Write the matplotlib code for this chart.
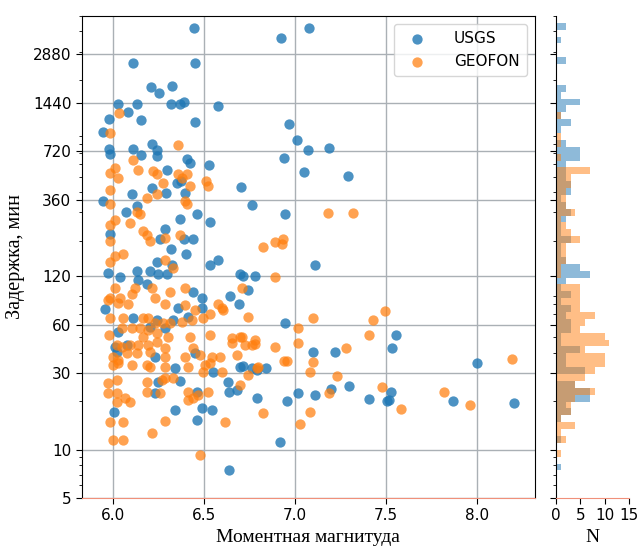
import numpy as np
import matplotlib
matplotlib.use("Agg")
import matplotlib.pyplot as plt
from matplotlib.ticker import NullFormatter

# USGS: magnitude, delay (min)
usgs_mag = [6.445, 7.077, 6.923, 6.110, 6.451, 6.209, 6.253, 6.324, 6.027, 6.132,
            6.082, 6.319, 6.368, 6.390, 6.577, 5.978, 6.154, 6.451, 6.967, 5.945,
            5.978, 5.984, 6.110, 6.154, 6.214, 6.242, 6.242, 6.407, 6.423, 6.527,
            7.011, 7.071, 7.187, 6.940, 7.049, 7.291, 6.297, 6.352, 6.374, 6.703,
            6.214, 6.104, 6.291, 6.396, 5.945, 6.132, 6.071, 6.462, 6.533, 6.368,
            6.764, 6.945, 5.984, 6.286, 6.258, 6.390, 6.440, 6.319, 6.401, 6.242,
            6.533, 6.577, 7.110, 5.973, 6.038, 6.132, 6.203, 6.247, 6.297, 6.324,
            6.137, 6.187, 6.698, 6.714, 6.780, 6.440, 6.489, 6.643, 6.742, 6.692,
            5.956, 6.110, 6.242, 6.330, 6.412, 6.489, 6.357, 6.286, 6.027, 6.011,
            6.022, 6.077, 6.203, 6.231, 6.451, 6.341, 6.247, 6.231, 6.368, 6.462,
            6.489, 6.544, 6.341, 6.462, 6.005, 6.549, 6.632, 6.637, 6.681, 6.698,
            6.714, 6.764, 6.791, 6.841, 6.637, 6.918, 6.945, 7.099, 7.220, 7.110,
            6.956, 6.791, 7.016, 7.198, 7.297, 7.407, 7.505, 7.516, 7.527, 7.533,
            7.555, 8.000, 7.868, 8.203]
usgs_delay = [4190, 4190, 3630, 2540, 2540, 1800, 1650, 1830, 1410, 1410,
              1260, 1410, 1410, 1460, 1375, 1140, 1125, 1095, 1060, 950,
              745, 690, 745, 683, 800, 733, 673, 645, 610, 592,
              846, 733, 754, 654, 535, 506, 551, 457, 471, 432,
              426, 391, 397, 397, 354, 329, 302, 294, 262, 273,
              334, 294, 221, 237, 203, 203, 203, 178, 164, 148,
              140, 152, 140, 125, 119, 130, 130, 123, 123, 140,
              113, 108, 123, 121, 121, 95, 88, 90, 98, 80,
              74.5, 66, 63.6, 63.6, 66.4, 75.6, 75.6, 56.8, 53.6, 43.3,
              40.3, 44.5, 57.6, 37.5, 39.7, 32.0, 26.2, 22.4, 26.6, 22.8,
              18.1, 17.6, 17.6, 15.2, 17.1, 30.3, 26.2, 22.8, 23.4, 32.5,
              33.0, 32.0, 31.1, 32.0, 7.46, 11.1, 61, 40.3, 40.3, 21.8,
              20, 20.9, 22.4, 23.7, 24.8, 20.6, 20, 20.3, 22.8, 42.7,
              51.4, 34.4, 20, 19.4]

# GEOFON: magnitude, delay (min)
geofon_mag = [6.033, 5.984, 6.357, 6.110, 6.011, 6.027, 5.984, 6.137, 6.220, 6.242,
              6.275, 6.357, 6.407, 6.379, 6.511, 6.522, 6.423, 5.984, 6.187, 6.242,
              6.396, 6.407, 5.984, 6.132, 6.148, 6.093, 6.011, 5.984, 6.165, 6.187,
              6.203, 5.984, 6.286, 6.368, 6.011, 6.055, 5.984, 6.824, 6.890, 6.934,
              6.929, 6.286, 6.330, 6.890, 7.181, 7.319, 6.011, 6.121, 6.214, 6.313,
              6.396, 6.709, 5.984, 6.038, 6.104, 6.231, 5.973, 6.027, 6.082, 6.286,
              6.396, 6.451, 6.599, 6.533, 6.742, 5.984, 6.055, 6.165, 6.192, 6.231,
              6.275, 6.313, 6.379, 6.434, 6.495, 6.049, 6.104, 6.148, 6.192, 6.242,
              5.978, 6.165, 6.302, 6.423, 6.533, 6.654, 6.709, 6.764, 6.725, 6.654,
              6.022, 6.049, 6.093, 6.137, 6.192, 6.242, 6.203, 6.286, 6.077, 6.132,
              6.027, 6.286, 6.396, 6.440, 6.478, 6.544, 6.588, 6.681, 6.000, 6.000,
              6.027, 6.104, 6.187, 6.203, 6.286, 6.412, 6.495, 6.505, 6.533, 6.599,
              6.742, 6.791, 6.286, 6.330, 5.973, 6.022, 6.187, 6.269, 5.973, 6.022,
              6.187, 6.258, 6.412, 6.412, 6.440, 6.467, 6.522, 6.066, 6.093, 6.022,
              6.286, 5.984, 6.055, 6.214, 6.615, 6.000, 6.055, 6.478, 6.577, 6.604,
              6.698, 6.780, 6.780, 6.890, 7.016, 7.016, 7.099, 7.099, 7.082, 6.698,
              6.797, 6.824, 7.027, 7.082, 7.495, 7.429, 7.407, 7.280, 6.956, 6.940,
              7.231, 7.187, 7.478, 7.582, 7.819, 7.962, 8.192]
geofon_delay = [1244, 934, 788, 636, 567, 491, 528, 551, 543, 520,
                457, 520, 520, 491, 471, 438, 438, 414, 369, 391,
                354, 339, 339, 302, 294, 258, 270, 251, 230, 218,
                200, 200, 208, 215, 161, 166, 146, 183, 197, 205,
                189, 152, 134, 119, 298, 298, 102, 100.6, 100.6, 95,
                100.6, 102, 88.4, 88.4, 93.6, 88.4, 84.7, 82.3, 81.1, 81.1,
                78.9, 73.4, 75.6, 70.3, 66.4, 65.5, 65.5, 65.5, 65.5, 61,
                61, 61, 61.9, 63.6, 65.5, 56.8, 56.8, 56.8, 55.2, 52.9,
                51.4, 49.9, 49.9, 49.9, 51.4, 49.2, 49.9, 44.5, 44.5, 45.8,
                44.5, 43.3, 44.5, 44.5, 44.5, 46.5, 40.3, 42.7, 39.7, 39.7,
                35.9, 37.5, 37.5, 42.7, 38.6, 37.5, 37.5, 38.6, 37.5, 33.5,
                34.4, 33.5, 33.5, 32.5, 32.5, 32.5, 30.3, 33.5, 34.4, 30.3,
                29.0, 32.0, 27.8, 27.8, 25.9, 27.0, 26.2, 27.0, 22.4, 22.4,
                22.8, 22.4, 22.8, 20.3, 20.9, 21.8, 22.8, 20.9, 19.7, 19.7,
                15.0, 14.8, 14.8, 12.7, 14.8, 11.5, 11.5, 9.25, 81.1, 73.4,
                49.9, 47.8, 45.2, 43.3, 56.8, 45.8, 65.5, 34.9, 30.3, 25.1,
                32.5, 16.9, 14.4, 17.1, 72.4, 63.6, 51.4, 42.7, 35.4, 35.4,
                28.6, 22.4, 24.4, 17.8, 22.8, 18.9, 36.5]

y_ticks = [5, 10, 30, 60, 120, 360, 720, 1440, 2880]
x_ticks = [6.0, 6.5, 7.0, 7.5, 8.0]

fig = plt.figure(figsize=(6.39, 5.51), dpi=100)
ax = fig.add_axes([0.128, 0.0962, 0.709, 0.875])
axh = fig.add_axes([0.870, 0.0962, 0.1142, 0.875], sharey=ax)

ax.scatter(usgs_mag, usgs_delay, s=55, color="#1f77b4", alpha=0.8, lw=0, label="USGS", zorder=3)
ax.scatter(geofon_mag, geofon_delay, s=55, color="#ff7f0e", alpha=0.72, lw=0, label="GEOFON", zorder=3)

ax.set_yscale("log")
ax.set_ylim(5, 5000)
ax.set_yticks(y_ticks)
ax.set_yticklabels([str(t) for t in y_ticks])
ax.yaxis.set_minor_formatter(NullFormatter())
ax.set_xticks(x_ticks)
ax.set_xticklabels(["%.1f" % t for t in x_ticks])
ax.set_xlim(5.83, 8.32)
ax.grid(True, which="major", color="#aab0b5", lw=1)
ax.set_axisbelow(True)
ax.tick_params(labelsize=11, length=4)
ax.tick_params(which="minor", length=2.5)
for s in ["left", "top", "right"]:
    ax.spines[s].set_color("black")
ax.spines["bottom"].set_color("#f0907a")

ax.set_xlabel("Моментная магнитуда", family="Liberation Serif", fontsize=14, labelpad=4)
ax.set_ylabel("Задержка, мин", family="Liberation Serif", fontsize=14.5, labelpad=6)

leg = ax.legend(loc="upper right", fontsize=11, borderpad=0.5, handletextpad=1.4,
                framealpha=0.8, edgecolor="#cccccc")

# marginal histogram
bins = np.logspace(np.log10(5), np.log10(5000), 71)
axh.hist(usgs_delay, bins=bins, orientation="horizontal", color="#1f77b4", alpha=0.5)
axh.hist(geofon_delay, bins=bins, orientation="horizontal", color="#ff7f0e", alpha=0.5)
axh.set_xlim(0, 15)
axh.set_xticks([0, 5, 10, 15])
axh.tick_params(labelleft=False, labelsize=11, length=4)
axh.tick_params(which="minor", length=2.5)
axh.spines["top"].set_visible(False)
axh.spines["right"].set_visible(False)
axh.spines["bottom"].set_color("#f0907a")
axh.set_xlabel("N", family="Liberation Serif", fontsize=14, labelpad=4)

fig.savefig("out.png", dpi=100)
